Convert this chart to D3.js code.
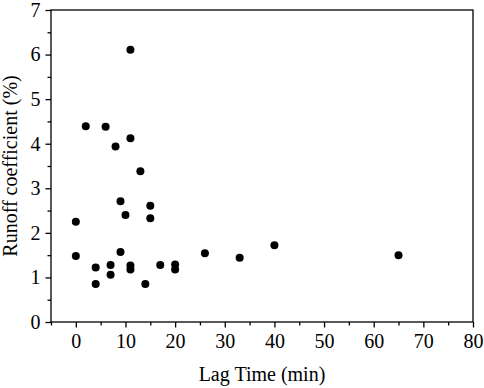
<!DOCTYPE html>
<html lang="en">
    <head>
        <meta charset="utf-8">
        <title>Runoff coefficient vs lag time</title>
        <script type="text/javascript" src="https://cdnjs.cloudflare.com/ajax/libs/d3/7.8.5/d3.min.js"></script>
        <style type="text/css">
            body { margin: 0; background: #fff; }
            .axis text, .title {
                font-family: "Liberation Serif", "Times New Roman", Times, "DejaVu Serif", serif;
                font-size: 20px;
                fill: #000;
            }
            .axis path, .axis line { stroke: #000; stroke-width: 1.3px; }
        </style>
    </head>
    <body>
        <script type="text/javascript">
            //Canvas size and plot box
            var w = 484;
            var h = 388;
            var boxLeft = 51, boxTop = 10, boxRight = 473, boxBottom = 322;
            var serif = "Liberation Serif, Times New Roman, Times, DejaVu Serif, serif";

            //Data
            var lagTime = [11, 2, 6, 11, 8, 13, 9, 15, 10, 15, 0, 0, 9, 4, 4, 7, 7, 11, 11, 14, 17, 20, 20, 26, 33, 40, 65];
            var runoff  = [6.11, 4.39, 4.38, 4.12, 3.94, 3.38, 2.71, 2.61, 2.40, 2.33, 2.25, 1.48, 1.57, 1.22, 0.85, 1.28, 1.06, 1.27, 1.18, 0.85, 1.28, 1.29, 1.18, 1.54, 1.44, 1.72, 1.50];
            var xTicks = [0, 10, 20, 30, 40, 50, 60, 70, 80];
            var yTicks = [0, 1, 2, 3, 4, 5, 6, 7];

            var svg = d3.select("body")
                        .append("svg")
                        .attr("width", w)
                        .attr("height", h);

            //Scales
            var xScale = d3.scaleLinear()
                            .domain([-5, 80])
                            .range([boxLeft, boxRight]);
            var yScale = d3.scaleLinear()
                            .domain([0, 7])
                            .range([boxBottom, boxTop]);

            var fmt = d3.format("d");

            //Minor ticks (halfway between majors)
            var xMinor = d3.range(-5, 80, 10);
            var yMinor = d3.range(0.5, 7, 1);

            function tidy(g) {
                g.select(".domain").remove();
                g.attr("font-family", serif).attr("font-size", 20);
                g.selectAll("text").style("font-family", serif);
            }

            svg.append("g")
                .attr("class", "axis")
                .attr("transform", "translate(0," + boxBottom + ")")
                .call(d3.axisBottom(xScale).tickValues(xMinor).tickSize(3.5).tickFormat(""))
                .call(tidy);

            svg.append("g")
                .attr("class", "axis")
                .attr("transform", "translate(" + boxLeft + ",0)")
                .call(d3.axisLeft(yScale).tickValues(yMinor).tickSize(3.5).tickFormat(""))
                .call(tidy);

            //Major axes
            svg.append("g")
                .attr("class", "axis")
                .attr("transform", "translate(0," + boxBottom + ")")
                .call(d3.axisBottom(xScale).tickValues(xTicks).tickSize(5.5).tickPadding(6).tickFormat(fmt))
                .call(tidy);

            svg.append("g")
                .attr("class", "axis")
                .attr("transform", "translate(" + boxLeft + ",0)")
                .call(d3.axisLeft(yScale).tickValues(yTicks).tickSize(5.5).tickPadding(5).tickFormat(fmt))
                .call(tidy);

            //Frame
            svg.append("rect")
                .attr("x", boxLeft)
                .attr("y", boxTop)
                .attr("width", boxRight - boxLeft)
                .attr("height", boxBottom - boxTop)
                .attr("fill", "none")
                .attr("stroke", "#000")
                .attr("stroke-width", 1.3);

            //Points
            svg.selectAll("circle")
                .data(d3.range(lagTime.length))
                .enter()
                .append("circle")
                .attr("cx", function(i) { return xScale(lagTime[i]); })
                .attr("cy", function(i) { return yScale(runoff[i]); })
                .attr("r", 4)
                .attr("fill", "#000");

            //Axis titles
            svg.append("text")
                .attr("class", "title")
                .attr("x", (boxLeft + boxRight) / 2)
                .attr("y", 381)
                .attr("text-anchor", "middle")
                .style("font-family", serif)
                .text("Lag Time (min)");

            svg.append("text")
                .attr("class", "title")
                .attr("transform", "translate(17," + ((boxTop + boxBottom) / 2) + ") rotate(-90)")
                .attr("text-anchor", "middle")
                .style("font-family", serif)
                .text("Runoff coefficient (%)");
        </script>
    </body>
</html>
